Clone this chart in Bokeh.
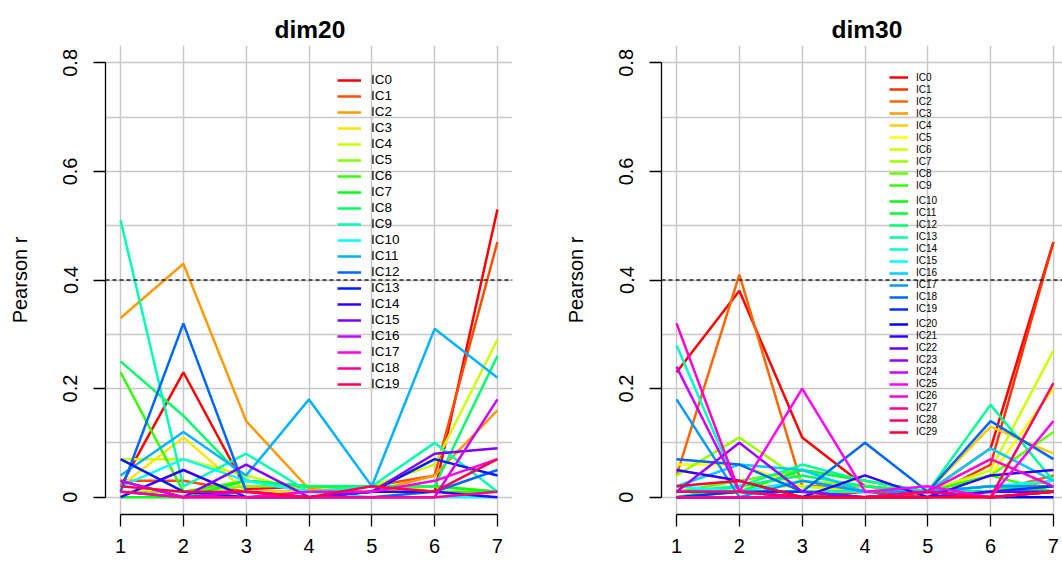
import colorsys
from bokeh.plotting import figure
from bokeh.models import Range1d, Span, Legend, LegendItem, FixedTicker
from bokeh.layouts import row
from bokeh.embed import file_html
from bokeh.resources import INLINE

# ---------------- data ----------------
steps = [1, 2, 3, 4, 5, 6, 7]
y_ticks = [0.0, 0.2, 0.4, 0.6, 0.8]
y_grid = [0.0, 0.1, 0.2, 0.3, 0.4, 0.5, 0.6, 0.7, 0.8]
threshold = 0.4
titles = ["dim20", "dim30"]
y_label = "Pearson r"

# dim20 components
d20_ic0 = [0.02, 0.23, 0.015, 0.02, 0.02, 0.01, 0.53]
d20_ic1 = [0.03, 0.03, 0.01, 0.01, 0.02, 0.04, 0.47]
d20_ic2 = [0.33, 0.43, 0.14, 0.015, 0.01, 0.04, 0.16]
d20_ic3 = [0.02, 0.11, 0.01, 0.01, 0.01, 0.02, 0.01]
d20_ic4 = [0.07, 0.07, 0.04, 0.01, 0.02, 0.06, 0.29]
d20_ic5 = [0.01, 0.01, 0.02, 0.02, 0.02, 0.02, 0.01]
d20_ic6 = [0.23, 0.01, 0.03, 0.02, 0.02, 0.01, 0.01]
d20_ic7 = [0.0, 0.0, 0.03, 0.02, 0.02, 0.02, 0.01]
d20_ic8 = [0.25, 0.15, 0.03, 0.02, 0.02, 0.02, 0.26]
d20_ic9 = [0.51, 0.02, 0.08, 0.01, 0.02, 0.10, 0.01]
d20_ic10 = [0.02, 0.07, 0.03, 0.01, 0.0, 0.0, 0.0]
d20_ic11 = [0.04, 0.12, 0.04, 0.18, 0.02, 0.31, 0.22]
d20_ic12 = [0.01, 0.32, 0.01, 0.0, 0.0, 0.01, 0.05]
d20_ic13 = [0.07, 0.01, 0.0, 0.0, 0.01, 0.07, 0.04]
d20_ic14 = [0.0, 0.05, 0.0, 0.0, 0.01, 0.01, 0.0]
d20_ic15 = [0.03, 0.0, 0.06, 0.0, 0.01, 0.08, 0.09]
d20_ic16 = [0.03, 0.0, 0.01, 0.0, 0.0, 0.0, 0.18]
d20_ic17 = [0.01, 0.0, 0.0, 0.01, 0.01, 0.03, 0.07]
d20_ic18 = [0.01, 0.0, 0.0, 0.0, 0.0, 0.0, 0.01]
d20_ic19 = [0.02, 0.01, 0.01, 0.0, 0.02, 0.01, 0.07]

# dim30 components
d30_ic0 = [0.23, 0.38, 0.11, 0.02, 0.01, 0.09, 0.47]
d30_ic1 = [0.01, 0.01, 0.0, 0.01, 0.0, 0.06, 0.47]
d30_ic2 = [0.04, 0.41, 0.02, 0.02, 0.01, 0.01, 0.04]
d30_ic3 = [0.01, 0.01, 0.01, 0.01, 0.01, 0.01, 0.03]
d30_ic4 = [0.01, 0.01, 0.01, 0.01, 0.01, 0.13, 0.08]
d30_ic5 = [0.06, 0.06, 0.02, 0.01, 0.01, 0.04, 0.20]
d30_ic6 = [0.01, 0.02, 0.02, 0.01, 0.01, 0.05, 0.27]
d30_ic7 = [0.04, 0.11, 0.03, 0.02, 0.01, 0.02, 0.01]
d30_ic8 = [0.01, 0.03, 0.05, 0.03, 0.01, 0.04, 0.12]
d30_ic9 = [0.0, 0.01, 0.01, 0.01, 0.01, 0.04, 0.01]
d30_ic10 = [0.0, 0.01, 0.01, 0.01, 0.01, 0.01, 0.01]
d30_ic11 = [0.01, 0.01, 0.05, 0.03, 0.01, 0.02, 0.01]
d30_ic12 = [0.0, 0.02, 0.04, 0.02, 0.01, 0.01, 0.01]
d30_ic13 = [0.01, 0.02, 0.06, 0.03, 0.01, 0.17, 0.03]
d30_ic14 = [0.28, 0.01, 0.01, 0.01, 0.01, 0.01, 0.02]
d30_ic15 = [0.02, 0.01, 0.03, 0.01, 0.01, 0.02, 0.03]
d30_ic16 = [0.02, 0.06, 0.05, 0.01, 0.01, 0.09, 0.03]
d30_ic17 = [0.18, 0.0, 0.03, 0.01, 0.01, 0.02, 0.02]
d30_ic18 = [0.07, 0.06, 0.01, 0.10, 0.01, 0.14, 0.07]
d30_ic19 = [0.0, 0.01, 0.01, 0.0, 0.0, 0.01, 0.02]
d30_ic20 = [0.0, 0.0, 0.0, 0.0, 0.01, 0.0, 0.0]
d30_ic21 = [0.05, 0.03, 0.0, 0.04, 0.0, 0.04, 0.05]
d30_ic22 = [0.0, 0.0, 0.0, 0.0, 0.0, 0.01, 0.01]
d30_ic23 = [0.01, 0.10, 0.01, 0.0, 0.01, 0.0, 0.01]
d30_ic24 = [0.24, 0.01, 0.0, 0.0, 0.01, 0.0, 0.01]
d30_ic25 = [0.01, 0.01, 0.20, 0.01, 0.02, 0.0, 0.14]
d30_ic26 = [0.32, 0.01, 0.0, 0.0, 0.01, 0.07, 0.02]
d30_ic27 = [0.0, 0.0, 0.0, 0.0, 0.0, 0.0, 0.01]
d30_ic28 = [0.01, 0.01, 0.0, 0.0, 0.01, 0.0, 0.21]
d30_ic29 = [0.02, 0.03, 0.0, 0.0, 0.0, 0.0, 0.01]

dim20 = [d20_ic0, d20_ic1, d20_ic2, d20_ic3, d20_ic4, d20_ic5, d20_ic6,
         d20_ic7, d20_ic8, d20_ic9, d20_ic10, d20_ic11, d20_ic12, d20_ic13,
         d20_ic14, d20_ic15, d20_ic16, d20_ic17, d20_ic18, d20_ic19]
dim30 = [d30_ic0, d30_ic1, d30_ic2, d30_ic3, d30_ic4, d30_ic5, d30_ic6,
         d30_ic7, d30_ic8, d30_ic9, d30_ic10, d30_ic11, d30_ic12, d30_ic13,
         d30_ic14, d30_ic15, d30_ic16, d30_ic17, d30_ic18, d30_ic19,
         d30_ic20, d30_ic21, d30_ic22, d30_ic23, d30_ic24, d30_ic25,
         d30_ic26, d30_ic27, d30_ic28, d30_ic29]


def rainbow(n):
    out = []
    for i in range(n):
        r, g, b = colorsys.hsv_to_rgb(i / n, 1.0, 1.0)
        out.append("#%02X%02X%02X" % (round(r * 255), round(g * 255), round(b * 255)))
    return out


FONT = "Liberation Sans"
HEIGHT = 563
TOP_B, BOTTOM_B = 45, 49
FRAME_W = 407
X0, X1 = 0.76, 7.24


def panel(title, series, width, b_left, b_right, title_offset, legend_spec):
    frame_w = width - b_left - b_right
    x_end = X0 + (X1 - X0) * frame_w / FRAME_W
    p = figure(width=width, height=HEIGHT, output_backend="svg",
               toolbar_location=None,
               x_range=Range1d(X0, x_end), y_range=Range1d(-0.032, 0.832),
               min_border_left=b_left, min_border_right=b_right,
               min_border_top=TOP_B, min_border_bottom=BOTTOM_B, title=title)
    p.outline_line_color = None
    p.background_fill_color = "white"
    p.border_fill_color = "white"

    p.title.text_font = FONT
    p.title.text_font_size = "24.5px"
    p.title.text_font_style = "bold"
    p.title.text_color = "black"
    p.title.align = "left"
    p.title.offset = title_offset
    p.title.vertical_align = "top"
    p.title.standoff = 1

    # grid
    p.xgrid.ticker = FixedTicker(ticks=steps)
    p.ygrid.ticker = FixedTicker(ticks=y_grid)
    for g in (p.xgrid, p.ygrid):
        g.grid_line_color = "#c8c8c8"
        g.grid_line_width = 1.5

    # axes
    for ax in (p.xaxis, p.yaxis):
        ax.axis_line_color = "black"
        ax.axis_line_width = 1.3
        ax.major_tick_line_color = "black"
        ax.major_tick_line_width = 1.3
        ax.major_tick_out = 12
        ax.major_tick_in = 0
        ax.minor_tick_out = 0
        ax.minor_tick_in = 0
        ax.major_label_text_font = FONT
        ax.major_label_text_font_size = "20px"
        ax.major_label_text_color = "black"
    p.xaxis.ticker = FixedTicker(ticks=steps)
    p.xaxis.bounds = (steps[0], steps[-1])
    p.xaxis.major_label_standoff = 12
    p.yaxis.ticker = FixedTicker(ticks=y_ticks)
    p.yaxis.bounds = (y_ticks[0], y_ticks[-1])
    p.yaxis.major_label_orientation = "parallel"
    p.yaxis.major_label_standoff = 16
    p.yaxis.axis_label = y_label
    p.yaxis.axis_label_text_font = FONT
    p.yaxis.axis_label_text_font_size = "20px"
    p.yaxis.axis_label_text_font_style = "normal"
    p.yaxis.axis_label_text_color = "black"
    p.yaxis.axis_label_standoff = 30

    colors = rainbow(len(series))
    renderers = []
    for vals, c in zip(series, colors):
        r = p.line(steps, vals, line_color=c, line_width=2.5)
        renderers.append(r)

    p.add_layout(Span(location=threshold, dimension="width", line_color="#222222",
                      line_dash="4 3", line_width=1.4))

    gw, std, fs, row_h, groups = legend_spec
    for (start, stop, vx, vy) in groups:
        items = [LegendItem(label="IC%d" % i, renderers=[renderers[i]])
                 for i in range(start, stop)]
        leg = Legend(items=items, location=(vx, vy), orientation="vertical",
                     padding=0, spacing=0, margin=0,
                     glyph_width=gw, glyph_height=row_h, label_height=row_h,
                     label_standoff=std, label_text_font=FONT,
                     label_text_font_size=fs, label_text_color="black",
                     border_line_color=None, background_fill_alpha=0)
        p.add_layout(leg)
    return p


# frame bottom in page pixels (for legend offsets)
FB = HEIGHT - BOTTOM_B
# legend groups: (first item, end item, x offset from frame left, bottom offset from frame bottom)
left_legend = (24, 10, "13.5px", 16, [(0, 20, 232, FB - 391.5)])
right_legend = (19, 8, "10px", 12, [(0, 10, 228, FB - (71.2 + 120)),
                                     (10, 20, 228, FB - (194.5 + 120)),
                                     (20, 30, 228, FB - (317.8 + 120))])

p1 = panel(titles[0], dim20, 540, 105, 28, 169, left_legend)
p2 = panel(titles[1], dim30, 522, 121, 0, 170, right_legend)

layout = row(p1, p2)
open("out.html", "w").write(file_html(layout, INLINE))
